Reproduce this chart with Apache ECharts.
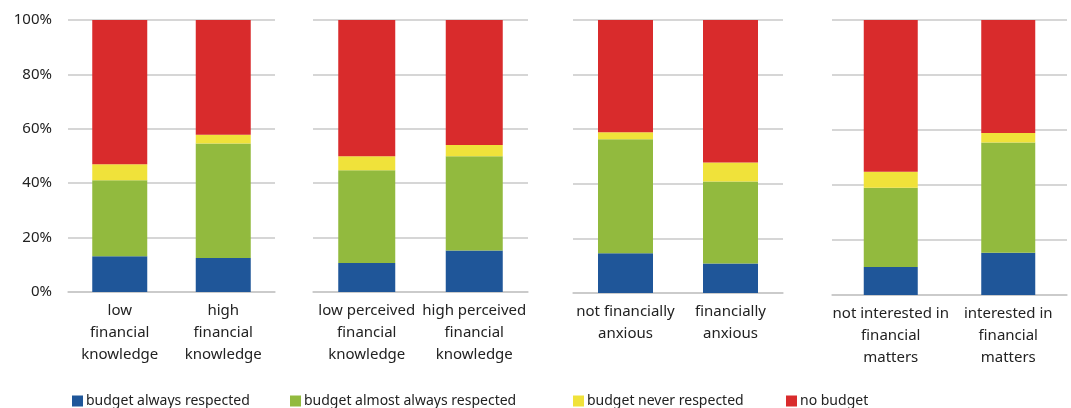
<!DOCTYPE html>
<html>
<head>
<meta charset="utf-8">
<script src="https://cdn.jsdelivr.net/npm/echarts@6/dist/echarts.min.js"></script>
<style>html,body{margin:0;padding:0;background:#fff}#c{width:1071px;height:408px}</style>
</head>
<body>
<div id="c"></div>
<script>
// Categories per panel
const panelCategories = [
  ['low\nfinancial\nknowledge', 'high\nfinancial\nknowledge'],
  ['low perceived\nfinancial\nknowledge', 'high perceived\nfinancial\nknowledge'],
  ['not financially\nanxious', 'financially\nanxious'],
  ['not interested in\nfinancial\nmatters', 'interested in\nfinancial\nmatters']
];
const seriesNames = ['budget always respected', 'budget almost always respected', 'budget never respected', 'no budget'];
// Values (%), 8 bars in panel order
const alwaysRespected       = [13.1, 12.5, 10.7, 15.3, 14.6, 10.8, 10.2, 15.4];
const almostAlwaysRespected = [28.0, 42.1, 34.1, 34.6, 41.7, 30.0, 28.8, 40.1];
const neverRespected        = [ 5.9,  3.2,  5.1,  4.1,  2.6,  7.0,  5.8,  3.4];
const noBudget              = [53.0, 42.2, 50.1, 46.0, 41.1, 52.2, 55.2, 41.1];
const yTicks = [0, 20, 40, 60, 80, 100];

const seriesData = [alwaysRespected, almostAlwaysRespected, neverRespected, noBudget];
const colors = ['#1f5699', '#92ba3e', '#f0e23a', '#d92b2c'];

const grids = [
  {left: 68, top: 20, width: 207, height: 272, barWidth: 55},
  {left: 313, top: 20, width: 215, height: 272, barWidth: 57},
  {left: 573, top: 20, width: 210, height: 273, barWidth: 55},
  {left: 832, top: 20, width: 235, height: 275, barWidth: 54}
];
const gridLineColor = '#c8c8c8';
const font = 'Noto Sans';

const option = {
  animation: false,
  color: colors,
  grid: grids.map(g => ({left: g.left, top: g.top, width: g.width, height: g.height})),
  xAxis: grids.map((g, i) => ({
    type: 'category', gridIndex: i, data: panelCategories[i],
    axisLine: {show: true, lineStyle: {color: gridLineColor, width: 1.5}},
    axisTick: {show: false},
    axisLabel: {color: '#222', fontSize: 15, fontFamily: font, lineHeight: 22, margin: 8, interval: 0}
  })),
  yAxis: grids.map((g, i) => ({
    type: 'value', gridIndex: i, min: yTicks[0], max: yTicks[yTicks.length - 1], interval: 20,
    axisLine: {show: false}, axisTick: {show: false},
    splitLine: {lineStyle: {color: gridLineColor, width: 1.5}},
    axisLabel: i === 0 ? {color: '#222', fontSize: 15, fontFamily: font, margin: 16, formatter: '{value}%'} : {show: false}
  })),
  legend: seriesNames.map((n, k) => ({
    data: [n],
    left: [72, 290, 573, 786][k], top: 394,
    padding: 0,
    itemWidth: 11, itemHeight: 11, itemGap: 0,
    icon: 'rect',
    textStyle: {color: '#222', fontSize: 14, fontFamily: font, padding: [0, 0, 0, -2]}
  })),
  series: []
};
grids.forEach((g, i) => {
  seriesNames.forEach((n, k) => {
    option.series.push({
      type: 'bar', name: n, stack: 'p' + i, xAxisIndex: i, yAxisIndex: i,
      barWidth: g.barWidth,
      itemStyle: {color: colors[k]},
      data: seriesData[k].slice(i * 2, i * 2 + 2)
    });
  });
});
echarts.init(document.getElementById('c')).setOption(option);
</script>
</body>
</html>
